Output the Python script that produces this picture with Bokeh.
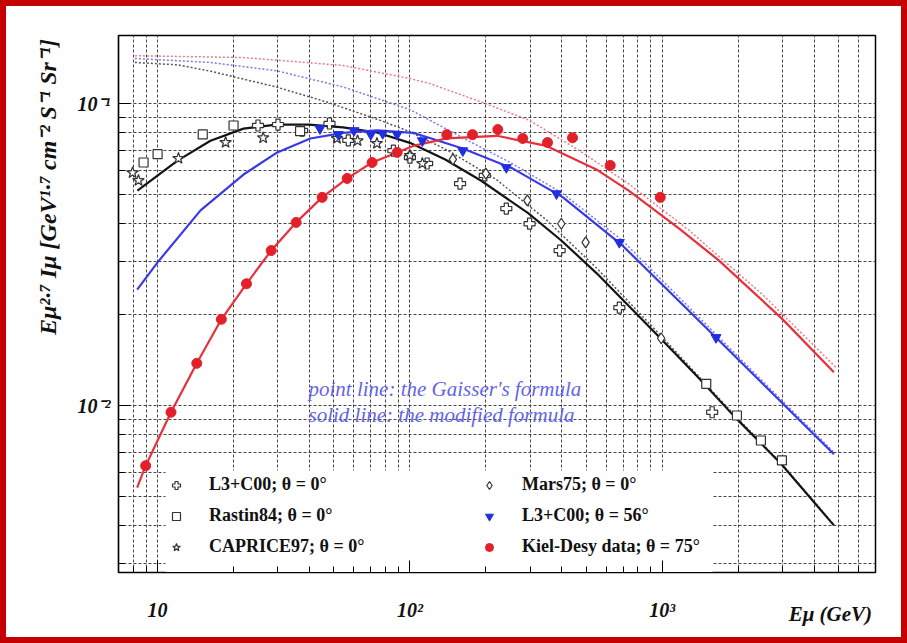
import math
from bokeh.plotting import figure
from bokeh.models import Range1d, FixedTicker, Legend, LegendItem, Label, BoxAnnotation
from bokeh.layouts import column
from bokeh.embed import file_html
from bokeh.resources import INLINE

# ---------------- data ----------------
# modified formula (solid lines)
black_solid_E = [8.32, 12.0, 16.2, 21.9, 29.5, 39.8, 54.3, 74.1, 100, 138, 191, 295, 398, 550, 977, 1380, 1950, 2950, 4790]
black_solid_I = [0.0515, 0.0647, 0.0753, 0.0826, 0.0851, 0.0851, 0.0834, 0.0802, 0.0741, 0.0653, 0.0556, 0.0433, 0.0352, 0.0274, 0.0168, 0.01245, 0.00912, 0.00643, 0.00401]

blue_solid_E = [8.3, 10, 14.8, 21.9, 29.8, 40.3, 54.3, 74, 103, 162, 255, 403, 695, 1633, 4790]
blue_solid_I = [0.0242, 0.0298, 0.0443, 0.0582, 0.0689, 0.0766, 0.080, 0.0815, 0.080, 0.071, 0.061, 0.049, 0.0339, 0.0168, 0.0069]

red_solid_E = [8.3, 8.97, 11.3, 14.3, 17.9, 22.5, 28.2, 35.4, 44.9, 56.4, 70.8, 89, 103, 140, 221, 348, 548, 741, 1167, 1679, 2980, 4790]
red_solid_I = [0.00535, 0.00632, 0.0095, 0.0138, 0.0193, 0.0253, 0.0326, 0.0404, 0.0489, 0.0565, 0.0638, 0.0689, 0.0724, 0.0767, 0.0782, 0.0724, 0.0605, 0.0513, 0.0385, 0.0302, 0.0194, 0.0129]

# Gaisser's formula (point lines)
black_dot_E = [8.13, 12.0, 16.2, 29.5, 46.8, 75.9, 97.7, 141, 219, 347, 550, 977, 1950, 2950, 4790]
black_dot_I = [0.1368, 0.1343, 0.128, 0.1135, 0.1012, 0.0881, 0.0813, 0.0700, 0.0562, 0.0412, 0.0285, 0.0172, 0.00923, 0.00646, 0.00403]

blue_dot_E = [8.13, 16.2, 29.5, 54.3, 100, 162, 255, 403, 695, 1633, 4790]
blue_dot_I = [0.141, 0.1368, 0.1285, 0.1135, 0.0955, 0.077, 0.0632, 0.0504, 0.0352, 0.0172, 0.0070]

red_dot_E = [8.13, 21.9, 54.3, 100, 120, 195, 298, 470, 741, 1279, 2512, 4870]
red_dot_I = [0.144, 0.142, 0.1337, 0.121, 0.1164, 0.1007, 0.0879, 0.0698, 0.0540, 0.0380, 0.0232, 0.0134]

# measurements
l3_0_E = [25, 30, 37.4, 48, 57, 86, 100, 117, 158, 198, 241, 298, 392, 676, 1577]
l3_0_I = [0.0846, 0.0852, 0.0814, 0.0859, 0.0755, 0.0698, 0.0662, 0.0633, 0.0543, 0.0578, 0.0449, 0.040, 0.0326, 0.0211, 0.0095]

rastin_E = [8.8, 10, 15.1, 20, 36.7, 1494, 1977, 2460, 2980]
rastin_I = [0.0638, 0.068, 0.079, 0.0846, 0.081, 0.0118, 0.00927, 0.00766, 0.00658]

caprice_E = [7.96, 8.4, 12.1, 18.6, 26.2, 51.4, 62, 74, 100, 112]
caprice_I = [0.059, 0.0556, 0.0658, 0.0743, 0.077, 0.0766, 0.0753, 0.0738, 0.0673, 0.0633]

mars_E = [148, 200, 292, 398, 497, 990]
mars_I = [0.0653, 0.0586, 0.0478, 0.040, 0.0347, 0.0167]

l3_56_E = [44, 52, 60, 70, 78, 89, 112, 162, 241, 381, 676, 1633]
l3_56_I = [0.0826, 0.079, 0.0814, 0.079, 0.0796, 0.079, 0.0753, 0.0698, 0.0614, 0.0503, 0.0347, 0.0168]

kiel_E = [8.97, 11.3, 14.3, 17.9, 22.5, 28.2, 35.4, 44.9, 56.4, 70.8, 89, 140, 177, 223, 280, 351, 441, 622, 982]
kiel_I = [0.00632, 0.0095, 0.0138, 0.0193, 0.0253, 0.0326, 0.0404, 0.0489, 0.0565, 0.0638, 0.0689, 0.0789, 0.0789, 0.082, 0.0766, 0.0743, 0.077, 0.0624, 0.0489]

x_major = [10, 100, 1000]
x_major_labels = ["10", "10²", "10³"]
y_major = [0.01, 0.1]
y_major_labels = ["10⁻²", "10⁻¹"]
x_minor = [8, 9] + [m * d for d in (10, 100, 1000) for m in range(2, 10) if m * d <= 7000]
y_minor = [m * 0.001 for m in range(3, 10)] + [m * 0.01 for m in range(2, 10)]

NB = "\u00a0"
x_title = "Eμ (GeV)"
y_title = NB.join(["Eμ²·⁷", "Iμ", "[GeV¹·⁷", "cm⁻²", "S⁻¹", "Sr⁻¹]"])
legend_left = ["L3+C00; θ = 0°", "Rastin84; θ = 0°", "CAPRICE97; θ = 0°"]
legend_right = ["Mars75; θ = 0°", "L3+C00; θ = 56°", "Kiel-Desy data; θ = 75°"]

# ---------------- geometry ----------------
XMIN, XMAX = 7.0, 7000.0
YMIN, YMAX = 0.0028, 0.168
PAGE_W, PAGE_H = 907, 643
BORDER = 6
FL, FR, FT, FB = 118, 875, 35, 572   # frame edges on the page

def px_to_E(px):
    a, b = math.log10(XMIN), math.log10(XMAX)
    return 10 ** (a + (px - FL) / (FR - FL) * (b - a))

def py_to_I(py):
    a, b = math.log10(YMIN), math.log10(YMAX)
    return 10 ** (b - (py - FT) / (FB - FT) * (b - a))

W, H = PAGE_W - 2 * BORDER, PAGE_H - 2 * BORDER
p = figure(width=W, height=H, x_axis_type="log", y_axis_type="log",
           x_range=Range1d(XMIN, XMAX), y_range=Range1d(YMIN, YMAX),
           output_backend="svg", toolbar_location=None,
           min_border_left=FL - BORDER, min_border_right=PAGE_W - BORDER - FR,
           min_border_top=FT - BORDER, min_border_bottom=PAGE_H - BORDER - FB)
p.background_fill_color = "white"
p.border_fill_color = "white"
p.outline_line_color = "black"
p.outline_line_width = 1.5

xt = FixedTicker(ticks=x_major, minor_ticks=x_minor)
yt = FixedTicker(ticks=y_major, minor_ticks=y_minor)
p.xaxis.ticker = xt
p.yaxis.ticker = yt
p.xgrid.ticker = xt
p.ygrid.ticker = yt
p.xaxis.major_label_overrides = {t: s for t, s in zip(x_major, x_major_labels)}
p.yaxis.major_label_overrides = {t: s for t, s in zip(y_major, y_major_labels)}

SERIF = "Liberation Serif"
for ax in (p.xaxis, p.yaxis):
    ax.axis_line_color = "black"
    ax.axis_line_width = 1.2
    ax.major_tick_in = 12
    ax.major_tick_out = 0
    ax.minor_tick_in = 6
    ax.minor_tick_out = 0
    ax.major_tick_line_color = "black"
    ax.minor_tick_line_color = "black"
    ax.major_label_text_font = SERIF
    ax.major_label_text_font_style = "bold italic"
    ax.major_label_text_font_size = "20px"
    ax.major_label_text_color = "#111111"
    ax.axis_label_text_font = SERIF
    ax.axis_label_text_font_style = "bold italic"
    ax.axis_label_text_color = "#111111"
    ax.axis_label_align = "center"
p.xaxis.major_label_standoff = 26
p.yaxis.major_label_standoff = 8

# x title: centred on the axis, pushed to the right end by leading no-break spaces
p.xaxis.axis_label = NB * 127 + x_title
p.xaxis.axis_label_text_font_size = "21px"
p.xaxis.axis_label_standoff = -22
# y title: centred on the axis, pushed upward by leading no-break spaces
p.yaxis.axis_label = NB * 39 + y_title
p.yaxis.axis_label_text_font_size = "24px"
p.yaxis.axis_label_standoff = 14

for g in (p.xgrid, p.ygrid):
    g.grid_line_color = "#333333"
    g.grid_line_dash = "3 2"
    g.grid_line_width = 1
    g.grid_line_alpha = 0.9
    g.minor_grid_line_color = "#333333"
    g.minor_grid_line_dash = "3 2"
    g.minor_grid_line_width = 1
    g.minor_grid_line_alpha = 0.9

# white legend area (covers the grid)
p.add_layout(BoxAnnotation(left=px_to_E(165), right=px_to_E(712), top=py_to_I(470),
                           fill_color="white", fill_alpha=1.0, line_color=None, level="underlay"))

# ---------------- curves ----------------
p.line(red_dot_E, red_dot_I, line_color="#f07a86", line_width=1.5, line_dash="2 2")
p.line(blue_dot_E, blue_dot_I, line_color="#7a7aee", line_width=1.5, line_dash="2 2")
p.line(black_dot_E, black_dot_I, line_color="#555555", line_width=1.5, line_dash="2 2")
p.line(black_solid_E, black_solid_I, line_color="#141414", line_width=2.2)
p.line(blue_solid_E, blue_solid_I, line_color="#3a3ae4", line_width=2.2)
p.line(red_solid_E, red_solid_I, line_color="#e8303a", line_width=2.2)

# ---------------- markers ----------------
MK = dict(line_color="#333333", fill_color="white", line_width=1.2)
r_l3 = p.scatter(l3_0_E, l3_0_I, marker="plus", size=11, **MK)
r_ra = p.scatter(rastin_E, rastin_I, marker="square", size=9, **MK)
r_ca = p.scatter(caprice_E, caprice_I, marker="star", size=12, **MK)
r_ma = p.scatter(mars_E, mars_I, marker="diamond", size=11, **MK)
r_56 = p.scatter(l3_56_E, l3_56_I, marker="inverted_triangle", size=10,
                 line_color="#1f2fe0", fill_color="#1f2fe0")
r_ki = p.scatter(kiel_E, kiel_I, marker="circle", size=10,
                 line_color="#e3202a", fill_color="#e3202a")

# ---------------- legends ----------------
def make_legend(labels, rends, loc):
    return Legend(items=[LegendItem(label=l, renderers=[r]) for l, r in zip(labels, rends)],
                  location=loc, orientation="vertical", padding=0, margin=0,
                  spacing=10, glyph_width=20, glyph_height=20, label_height=20,
                  label_standoff=23, label_text_font=SERIF, label_text_font_style="bold",
                  label_text_font_size="18px", label_text_color="#111111",
                  border_line_color=None, background_fill_alpha=0.0)

p.add_layout(make_legend(legend_left, [r_l3, r_ra, r_ca], (48, 15)))
p.add_layout(make_legend(legend_right, [r_ma, r_56, r_ki], (361, 15)))

# ---------------- notes ----------------
NOTE = "#6464e8"
p.add_layout(Label(x=px_to_E(308), y=py_to_I(388), text="point line: the Gaisser's formula",
                   text_font=SERIF, text_font_style="italic", text_font_size="21px",
                   text_color=NOTE, text_baseline="middle"))
p.add_layout(Label(x=px_to_E(308), y=py_to_I(414), text="solid  line: the modified formula",
                   text_font=SERIF, text_font_style="italic", text_font_size="21px",
                   text_color=NOTE, text_baseline="middle"))

page = column(p, styles={"border": f"{BORDER}px solid #c40000"})
open("out.html", "w").write(file_html(page, INLINE))
